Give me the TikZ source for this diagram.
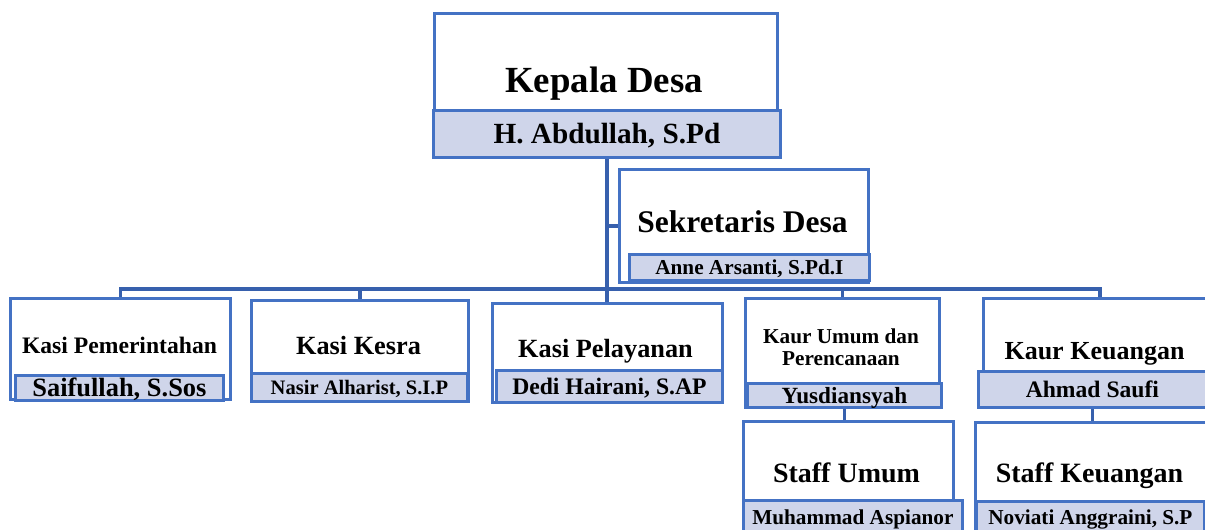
\documentclass[tikz,border=0pt]{standalone}
\usepackage{fontspec}
\setmainfont{Liberation Serif}
\usepackage{xcolor}
\definecolor{garisbiru}{HTML}{4472C4}
\definecolor{garisgelap}{HTML}{3760AD}
\definecolor{namabg}{HTML}{CFD5EA}

\begin{document}
\begin{tikzpicture}[x=0.025cm, y=-0.025cm,
		kotak/.style={draw=garisbiru, line width=2pt, fill=white, inner sep=0pt, anchor=north west},
		nama/.style={kotak, fill=namabg, font=\bfseries\fontsize{#1}{#1}\selectfont, text height=0.66*#1pt, text depth=0pt},
		judul/.style={anchor=base, inner sep=0pt, font=\bfseries\fontsize{#1}{#1}\selectfont},
		garis/.style={color=garisgelap, line width=2.4pt}]
		\useasboundingbox (0,0) rectangle (1205,529);
		\clip (0,0) rectangle (1205,529);
		% kepala desa
		\node[kotak, minimum width=343*0.025cm, minimum height=97*0.025cm] (kades) at (433,12) {};
		\node[nama=20.8, minimum width=347*0.025cm, minimum height=47*0.025cm] (kadesN) at (432,109) {H. Abdullah, S.Pd};
		\node[judul=26.2] (kadesJ) at (604,92) {Kepala Desa};
		% sekretaris desa
		\node[kotak, minimum width=249*0.025cm, minimum height=113*0.025cm] (sekdes) at (618,168) {};
		\node[nama=15.1, minimum width=240*0.025cm, minimum height=26*0.025cm] (sekdesN) at (628,253) {Anne Arsanti, S.Pd.I};
		\node[judul=22.4] (sekdesJ) at (742.5,232) {Sekretaris Desa};
		% kasi pemerintahan
		\node[kotak, minimum width=220*0.025cm, minimum height=101*0.025cm] (pemerintahan) at (9,297) {};
		\node[nama=18.8, minimum width=208*0.025cm, minimum height=25*0.025cm] (pemerintahanN) at (14,374) {Saifullah, S.Sos};
		\node[judul=16.8] (pemerintahanJ) at (119.5,353) {Kasi Pemerintahan};
		% kasi kesra
		\node[kotak, minimum width=217*0.025cm, minimum height=101*0.025cm] (kesra) at (250,299) {};
		\node[nama=14.6, minimum width=216*0.025cm, minimum height=28*0.025cm] (kesraN) at (250,372) {Nasir Alharist, S.I.P};
		\node[judul=18.7] (kesraJ) at (358.5,354) {Kasi Kesra};
		% kasi pelayanan
		\node[kotak, minimum width=230*0.025cm, minimum height=99*0.025cm] (pelayanan) at (491,302) {};
		\node[nama=16.8, minimum width=226*0.025cm, minimum height=32*0.025cm] (pelayananN) at (495,369) {Dedi Hairani, S.AP};
		\node[judul=18.7] (pelayananJ) at (605.5,357) {Kasi Pelayanan};
		% kaur umum dan perencanaan
		\node[kotak, minimum width=194*0.025cm, minimum height=109*0.025cm] (kaurumum) at (744,297) {};
		\node[nama=16.5, minimum width=194*0.025cm, minimum height=24*0.025cm] (kaurumumN) at (746,382) {Yusdiansyah};
		\node[anchor=center, inner sep=0pt, align=center, font=\bfseries\fontsize{15.1}{15.6}\selectfont] (kaurumumJ) at (841,347) {Kaur Umum dan\\Perencanaan};
		% staff umum
		\node[kotak, minimum width=210*0.025cm, minimum height=120*0.025cm] (staffumum) at (742,420) {};
		\node[nama=15.1, minimum width=219*0.025cm, minimum height=34*0.025cm] (staffumumN) at (742,499) {Muhammad Aspianor};
		\node[judul=19.9] (staffumumJ) at (846.5,482) {Staff Umum};
		% kaur keuangan
		\node[kotak, minimum width=233*0.025cm, minimum height=108*0.025cm] (kaurkeu) at (982,297) {};
		\node[nama=16.8, minimum width=228*0.025cm, minimum height=36*0.025cm] (kaurkeuN) at (977,370) {Ahmad Saufi};
		\node[judul=18.5] (kaurkeuJ) at (1094.5,359) {Kaur Keuangan};
		% staff keuangan
		\node[kotak, minimum width=241*0.025cm, minimum height=120*0.025cm] (staffkeu) at (974,421) {};
		\node[nama=15.1, minimum width=228*0.025cm, minimum height=33*0.025cm] (staffkeuN) at (975,500) {Noviati Anggraini, S.P};
		\node[judul=19.9] (staffkeuJ) at (1089.5,482) {Staff Keuangan};
		% garis
		\coordinate (bus) at (604,289);
		\draw[garis] (kadesN.south) -- (kadesN.south |- pelayanan.north);
		\draw[garis] (kadesN.south |- sekdes.west) -- (sekdes.west);
		\draw[garis] (pemerintahan.north) |- (bus) -| (kaurkeu.north);
		\draw[garis] (kesra.north) -- (kesra.north |- bus);
		\draw[garis] (kaurumum.north) -- (kaurumum.north |- bus);
		\draw[garis] (kaurumumN.south) -- (kaurumumN.south |- staffumum.north);
		\draw[garis] (kaurkeuN.south) -- (kaurkeuN.south |- staffkeu.north);
	\end{tikzpicture}
\end{document}
